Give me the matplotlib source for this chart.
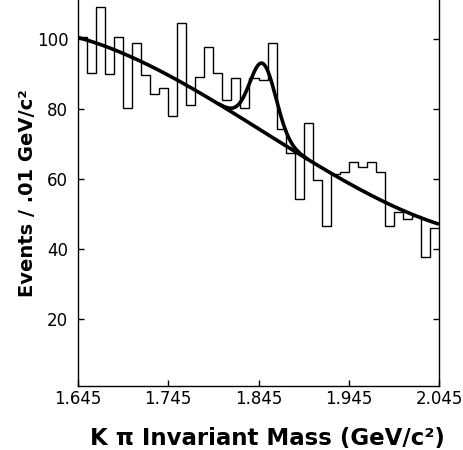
import numpy as np
import matplotlib
matplotlib.use("Agg")
import matplotlib.pyplot as plt

# ---- data ----
mass_lo = 1.645
bin_width = 0.01
counts = [100.5, 90.3, 109.1, 90.1, 100.7, 80.4, 98.9, 89.8, 84.4, 86.0,
          78.1, 104.7, 81.2, 89.1, 97.9, 90.3, 82.7, 88.9, 80.3, 88.9,
          88.4, 99.0, 74.3, 67.4, 54.3, 76.2, 59.8, 46.7, 61.5, 62.2,
          65.0, 63.6, 65.0, 62.2, 46.7, 50.7, 48.6, 49.5, 37.7, 46.0]

# fit: cubic background in (m - 1.845) plus a Gaussian peak
bg_center = 1.845
bg_coef = [74.45, -161.4, -15.0, 703.0]
peak_amp = 19.4
peak_mu = 1.850
peak_sigma = 0.0145

xticks = [1.645, 1.745, 1.845, 1.945, 2.045]
xticklabels = ["1.645", "1.745", "1.845", "1.945", "2.045"]
yticks = [20, 40, 60, 80, 100]

# ---- figure ----
fig = plt.figure(figsize=(4.63, 4.50), dpi=100)
ax = fig.add_axes([78 / 463, (450 - 386) / 450, (439 - 78) / 463, 386 / 450])

edges = mass_lo + bin_width * np.arange(len(counts) + 1)
ax.stairs(counts, edges, baseline=None, color="black", lw=1.0)

m = np.linspace(edges[0], edges[-1], 600)
u = m - bg_center
bg = bg_coef[0] + bg_coef[1] * u + bg_coef[2] * u**2 + bg_coef[3] * u**3
gauss = peak_amp * np.exp(-0.5 * ((m - peak_mu) / peak_sigma) ** 2)
ax.plot(m, bg, color="black", lw=2.6, solid_capstyle="butt")
sel = gauss > 0.05
ax.plot(m[sel], (bg + gauss)[sel], color="black", lw=2.6, solid_capstyle="butt")

ax.set_xlim(edges[0], edges[-1])
ax.set_ylim(1, 111.2)

ax.spines["top"].set_visible(False)
for s in ["left", "right", "bottom"]:
    ax.spines[s].set_linewidth(1.0)

ax.set_xticks(xticks)
ax.set_xticklabels(xticklabels)
ax.set_yticks(yticks)
ax.tick_params(axis="x", direction="in", length=4.5, width=1.0, pad=3,
               labelsize=12)
ax.tick_params(axis="y", direction="in", length=4.5, width=1.0, pad=7,
               labelsize=12, right=True, labelright=False)

ax.set_xlabel("K π Invariant Mass (GeV/c²)", fontsize=16.5, fontweight="bold",
              family="DejaVu Sans", labelpad=11)
ax.xaxis.set_label_coords(0.525, -0.105)
ax.set_ylabel("Events / .01 GeV/c²", fontsize=14, fontweight="bold",
              family="DejaVu Sans", labelpad=-0.5)

fig.savefig("out.png", dpi=100)
